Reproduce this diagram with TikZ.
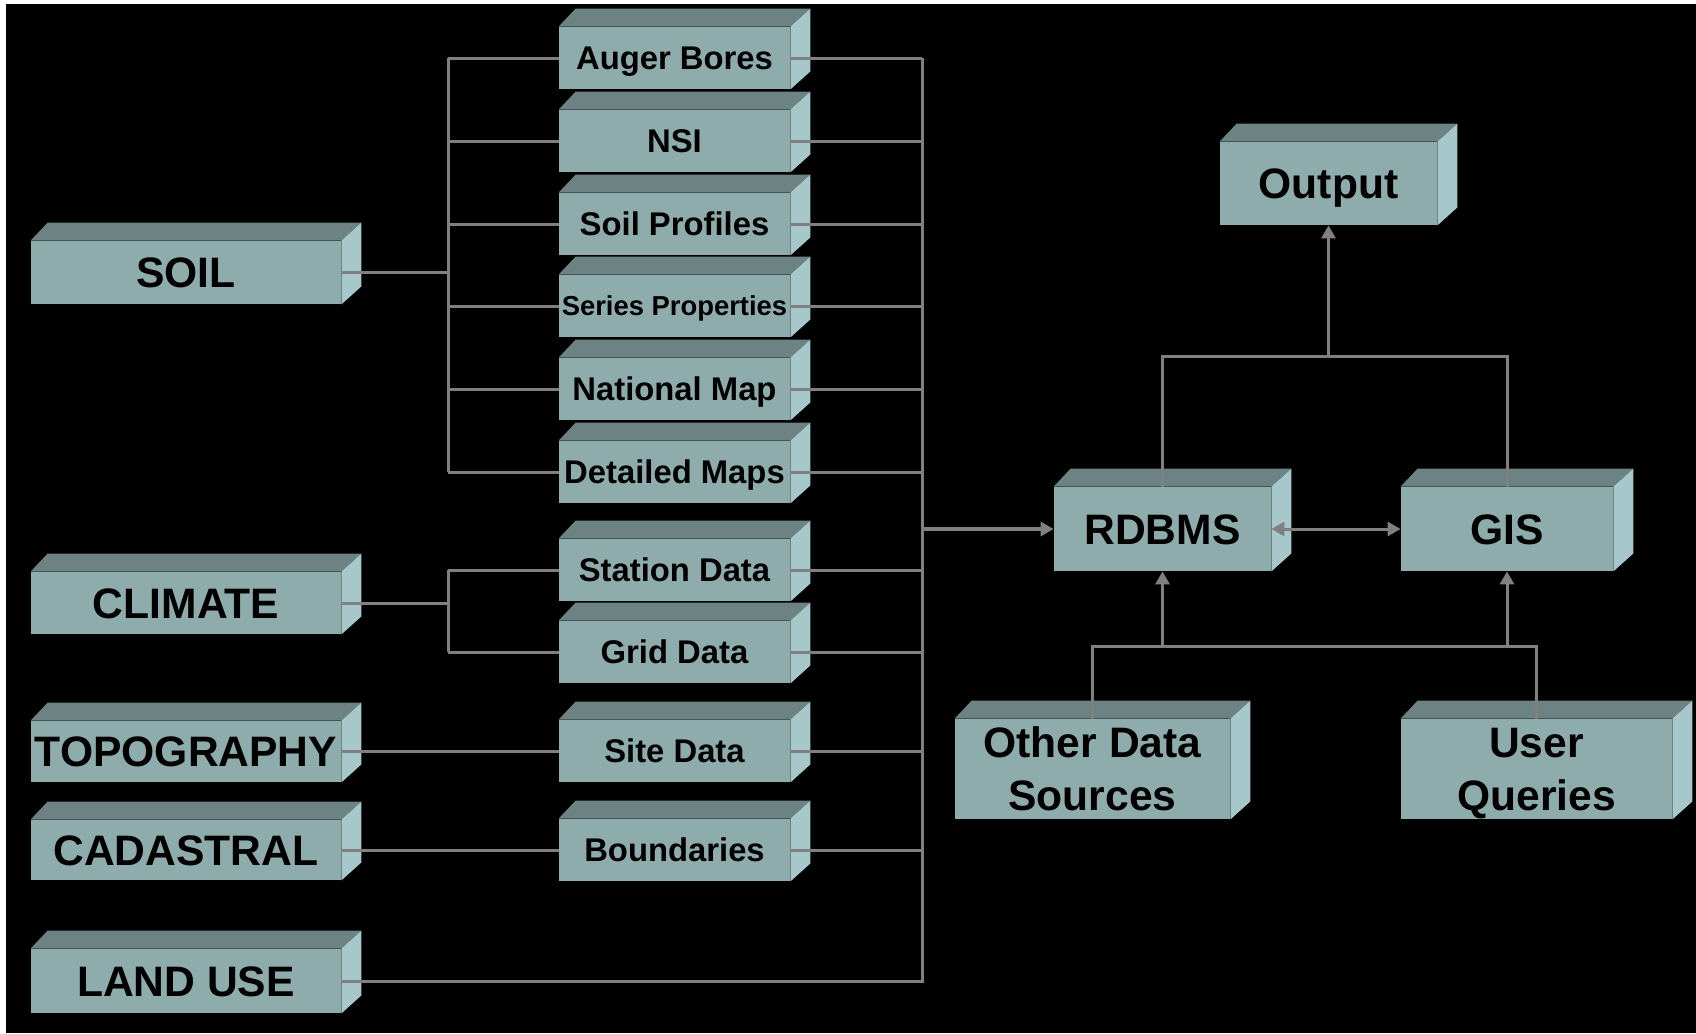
\documentclass[tikz,border=0pt]{standalone}
\usepackage{fontspec}
\setmainfont{Liberation Sans}
\usetikzlibrary{fit,calc,arrows.meta}
\definecolor{frontc}{HTML}{8EACAC}
\definecolor{topc}{HTML}{6D8282}
\definecolor{sidec}{HTML}{A6C8CB}
\definecolor{linec}{HTML}{808080}
\tikzset{
 frontface/.style={fill=frontc, inner sep=0pt},
 boxtext/.style={inner sep=0pt, align=center, text=black},
 bigtext/.style={boxtext, font=\fontsize{21.3}{26.5}\selectfont\bfseries, text height=15.25pt, text depth=0pt},
 bigtwo/.style={boxtext, font=\fontsize{21.3}{26.5}\selectfont\bfseries, text depth=0pt},
 midtext/.style={boxtext, font=\fontsize{16.4}{20}\selectfont\bfseries, text height=11.74pt, text depth=0pt},
 smalltext/.style={boxtext, font=\fontsize{13.7}{16}\selectfont\bfseries, text height=9.81pt, text depth=0pt},
 conn/.style={draw=linec, line width=1.5pt},
 arr/.style={conn, -{Triangle[length=6.5pt,width=7pt]}},
 biarr/.style={conn, {Triangle[length=6.5pt,width=7pt]}-{Triangle[length=6.5pt,width=7pt]}},
}
\newcommand\tdbox[5]{%
 \node[frontface,fit={#3 #4}] (#1) {};
 \fill[topc] (#1.north west) -- ++(17,-18) -- ($(#1.north east)+(20,-18)$) -- (#1.north east) -- cycle;
 \fill[sidec] (#1.north east) -- ($(#1.north east)+(20,-18)$) -- ($(#1.south east)+(20,-18)$) -- (#1.south east) -- cycle;
 \node[#2] (#1-t) at (#1.center) {#5};
}
\begin{document}
\begin{tikzpicture}[x=0.5pt,y=-0.5pt]
\useasboundingbox (0,0) rectangle (1696,1033);
\fill[white] (0,0) rectangle (1696,1033);
\fill[black] (6,4) rectangle (1696,1033);
% left column
\tdbox{soil}{bigtext}{(31,241)}{(341,304)}{SOIL}
\tdbox{climate}{bigtext}{(31,572)}{(341,634)}{CLIMATE}
\tdbox{topo}{bigtext}{(31,721)}{(341,782)}{TOPOGRAPHY}
\tdbox{cad}{bigtext}{(31,820)}{(341,880)}{CADASTRAL}
\tdbox{land}{bigtext}{(31,949)}{(341,1013)}{LAND USE}
% middle column
\tdbox{auger}{midtext}{(559,27)}{(790,89)}{Auger Bores}
\tdbox{nsi}{midtext}{(559,110)}{(790,172)}{NSI}
\tdbox{prof}{midtext}{(559,193)}{(790,255)}{Soil Profiles}
\tdbox{series}{smalltext}{(559,275)}{(790,337)}{Series Properties}
\tdbox{natmap}{midtext}{(559,358)}{(790,420)}{National Map}
\tdbox{detail}{midtext}{(559,441)}{(790,503)}{Detailed Maps}
\tdbox{station}{midtext}{(559,539)}{(790,601)}{Station Data}
\tdbox{grid}{midtext}{(559,621)}{(790,683)}{Grid Data}
\tdbox{site}{midtext}{(559,720)}{(790,782)}{Site Data}
\tdbox{bound}{midtext}{(559,819)}{(790,881)}{Boundaries}
% right part
\tdbox{output}{bigtext}{(1220,142)}{(1437,225)}{Output}
\tdbox{rdbms}{bigtext}{(1054,487)}{(1271,571)}{RDBMS}
\tdbox{gis}{bigtext}{(1401,487)}{(1613,571)}{GIS}
\tdbox{other}{bigtwo}{(955,719)}{(1230,819)}{Other Data\\Sources}
\tdbox{user}{bigtwo}{(1401,719)}{(1672,819)}{User\\Queries}
% connectors
\coordinate (bl) at (448,0);
\coordinate (br) at (922,0);
\coordinate (topbus) at (0,356);
\coordinate (botbus) at (0,646);
\draw[conn] (soil.east) -- (soil.east -| bl);
\draw[conn] (auger.west -| bl) -- (detail.west -| bl);
\foreach \n in {auger,nsi,prof,series,natmap,detail} \draw[conn] (\n.west -| bl) -- (\n.west);
\draw[conn] (climate.east) -- (climate.east -| bl);
\draw[conn] (station.west -| bl) -- (grid.west -| bl);
\foreach \n in {station,grid} \draw[conn] (\n.west -| bl) -- (\n.west);
\draw[conn] (topo.east) -- (topo.east -| site.west);
\draw[conn] (cad.east) -- (cad.east -| bound.west);
\foreach \n in {auger,nsi,prof,series,natmap,detail,station,grid,site,bound} \draw[conn] (\n.east) -- (\n.east -| br);
\draw[conn] (land.east) -- (land.east -| br) -- (auger.east -| br);
\draw[arr, line width=2pt] (rdbms.west -| br) -- (rdbms.west);
\draw[biarr] (rdbms.east) -- (gis.west);
\draw[conn] (rdbms.north) -- (rdbms.north |- topbus) -- (gis.north |- topbus) -- (gis.north);
\draw[arr] (output.south |- topbus) -- (output.south);
\draw[conn] (other.north) -- (other.north |- botbus) -- (user.north |- botbus) -- (user.north);
\draw[arr] (rdbms.south |- botbus) -- (rdbms.south);
\draw[arr] (gis.south |- botbus) -- (gis.south);
\end{tikzpicture}
\end{document}
